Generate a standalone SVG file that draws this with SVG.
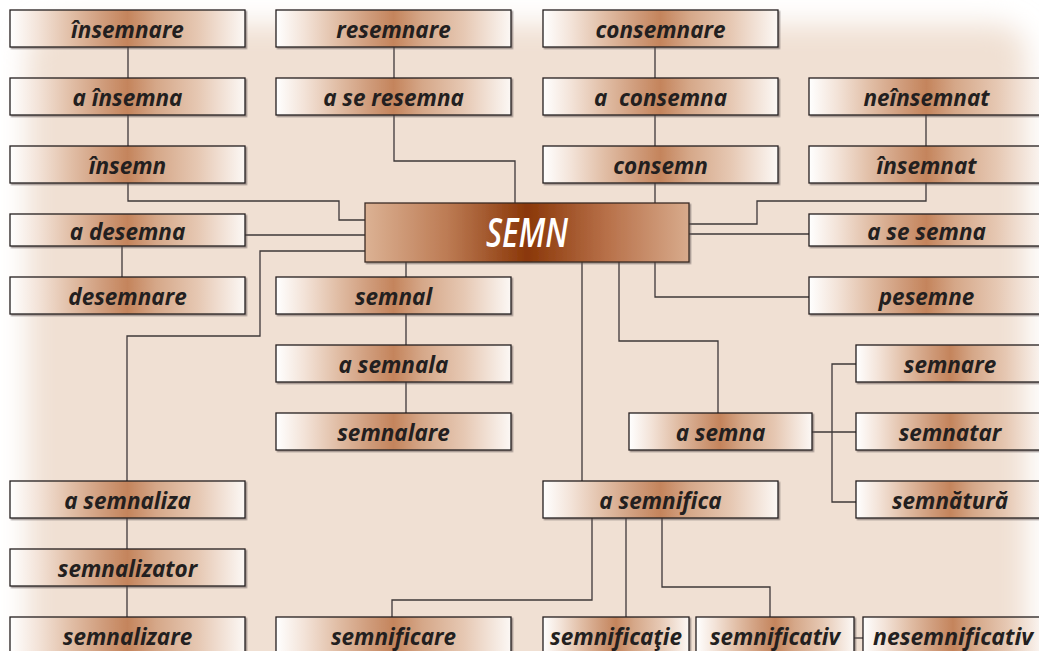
<svg xmlns="http://www.w3.org/2000/svg" width="1039" height="651" viewBox="0 0 1039 651">
<style>
.box{stroke:#231f20;stroke-width:1.3;fill:url(#g)}
.lbl{font-family:"Open Sans","Noto Sans",sans-serif;font-weight:700;font-style:italic;font-size:22.5px;fill:#231f20;text-anchor:middle;white-space:pre}
.ln{fill:none;stroke:#3e3839;stroke-width:1.3}
</style>
<defs>
<linearGradient id="g" x1="0" y1="0" x2="1" y2="0">
<stop offset="0" stop-color="#ffffff"/>
<stop offset="0.12" stop-color="#f3e3d8"/>
<stop offset="0.26" stop-color="#e1bea6"/>
<stop offset="0.4" stop-color="#cf9b7a"/>
<stop offset="0.5" stop-color="#c4845c"/>
<stop offset="0.62" stop-color="#d5a788"/>
<stop offset="0.8" stop-color="#e6c8b3"/>
<stop offset="1" stop-color="#fcf8f5"/>
</linearGradient>
<linearGradient id="gc" x1="0" y1="0" x2="1" y2="0">
<stop offset="0" stop-color="#dcb294"/>
<stop offset="0.25" stop-color="#bd7c55"/>
<stop offset="0.5" stop-color="#8a3708"/>
<stop offset="0.75" stop-color="#b8714a"/>
<stop offset="1" stop-color="#d8ab8c"/>
</linearGradient>
<filter id="blur" x="-10%" y="-10%" width="120%" height="120%"><feGaussianBlur stdDeviation="14"/></filter>
<filter id="sh" x="-5%" y="-20%" width="110%" height="150%"><feDropShadow dx="1.5" dy="1.5" stdDeviation="0.6" flood-color="#5a5050" flood-opacity="0.55"/></filter>
</defs>
<rect width="1039" height="651" fill="#ffffff"/>
<rect x="28" y="24" width="998" height="700" rx="30" fill="#f0e0d3" filter="url(#blur)"/>

<g id="connectors">
<path class="ln" d="M128,47V78M128,115V146"/>
<path class="ln" d="M128,183V201H339V220H365"/>
<path class="ln" d="M245,235H365"/>
<path class="ln" d="M122,246V277"/>
<path class="ln" d="M365,251H260V336H127V481"/>
<path class="ln" d="M127,518V549M127,586V617"/>
<path class="ln" d="M394,47V78"/>
<path class="ln" d="M394,115V161H515V203"/>
<path class="ln" d="M655,47V78M655,115V146M655,183V203"/>
<path class="ln" d="M926,115V146"/>
<path class="ln" d="M926,183V201H757V224H689"/>
<path class="ln" d="M689,234H809"/>
<path class="ln" d="M655,262V297H809"/>
<path class="ln" d="M406,262V277M406,314V345M406,382V413"/>
<path class="ln" d="M582,262V481"/>
<path class="ln" d="M619,262V341H718V413"/>
<path class="ln" d="M812,432H856M856,364H832V502H856"/>
<path class="ln" d="M592,518V600H392V617"/>
<path class="ln" d="M626,518V617"/>
<path class="ln" d="M662,518V587H770V617"/>
<path class="ln" d="M854,638H863"/>
</g>

<g id="SEMN"><rect x="365" y="203" width="324" height="59" fill="url(#gc)" stroke="#3a2a22" stroke-width="1.3" filter="url(#sh)"/><text x="527" y="247" font-family="Open Sans,Noto Sans,sans-serif" font-weight="600" font-style="italic" font-size="40" fill="#ffffff" text-anchor="middle" textLength="82" lengthAdjust="spacingAndGlyphs">SEMN</text></g>

<g id="n1"><rect class="box" x="10" y="10" width="235" height="37" filter="url(#sh)"/><text class="lbl" x="127.5" y="38">însemnare</text></g>
<g id="n2"><rect class="box" x="10" y="78" width="235" height="37" filter="url(#sh)"/><text class="lbl" x="127.5" y="106">a însemna</text></g>
<g id="n3"><rect class="box" x="10" y="146" width="235" height="37" filter="url(#sh)"/><text class="lbl" x="127.5" y="174">însemn</text></g>
<g id="n4"><rect class="box" x="10" y="214" width="235" height="32" filter="url(#sh)"/><text class="lbl" x="127.5" y="240">a desemna</text></g>
<g id="n5"><rect class="box" x="10" y="277" width="235" height="37" filter="url(#sh)"/><text class="lbl" x="127.5" y="305">desemnare</text></g>
<g id="n6"><rect class="box" x="276" y="10" width="235" height="37" filter="url(#sh)"/><text class="lbl" x="393.5" y="38">resemnare</text></g>
<g id="n7"><rect class="box" x="276" y="78" width="235" height="37" filter="url(#sh)"/><text class="lbl" x="393.5" y="106">a se resemna</text></g>
<g id="n8"><rect class="box" x="543" y="10" width="235" height="37" filter="url(#sh)"/><text class="lbl" x="660.5" y="38">consemnare</text></g>
<g id="n9"><rect class="box" x="543" y="78" width="235" height="37" filter="url(#sh)"/><text class="lbl" x="660.5" y="106">a  consemna</text></g>
<g id="n10"><rect class="box" x="543" y="146" width="235" height="37" filter="url(#sh)"/><text class="lbl" x="660.5" y="174">consemn</text></g>
<g id="n11"><rect class="box" x="809" y="78" width="235" height="37" filter="url(#sh)"/><text class="lbl" x="926.5" y="106">neînsemnat</text></g>
<g id="n12"><rect class="box" x="809" y="146" width="235" height="37" filter="url(#sh)"/><text class="lbl" x="926.5" y="174">însemnat</text></g>
<g id="n13"><rect class="box" x="809" y="214" width="235" height="32" filter="url(#sh)"/><text class="lbl" x="926.5" y="240">a se semna</text></g>
<g id="n14"><rect class="box" x="809" y="277" width="235" height="37" filter="url(#sh)"/><text class="lbl" x="926.5" y="305">pesemne</text></g>
<g id="n15"><rect class="box" x="276" y="277" width="235" height="37" filter="url(#sh)"/><text class="lbl" x="393.5" y="305">semnal</text></g>
<g id="n16"><rect class="box" x="276" y="345" width="235" height="37" filter="url(#sh)"/><text class="lbl" x="393.5" y="373">a semnala</text></g>
<g id="n17"><rect class="box" x="276" y="413" width="235" height="37" filter="url(#sh)"/><text class="lbl" x="393.5" y="441">semnalare</text></g>
<g id="n18"><rect class="box" x="629" y="413" width="183" height="37" filter="url(#sh)"/><text class="lbl" x="720.5" y="441">a semna</text></g>
<g id="n19"><rect class="box" x="856" y="345" width="188" height="37" filter="url(#sh)"/><text class="lbl" x="950" y="373">semnare</text></g>
<g id="n20"><rect class="box" x="856" y="413" width="188" height="37" filter="url(#sh)"/><text class="lbl" x="950" y="441">semnatar</text></g>
<g id="n21"><rect class="box" x="856" y="481" width="188" height="37" filter="url(#sh)"/><text class="lbl" x="950" y="509">semnătură</text></g>
<g id="n22"><rect class="box" x="543" y="481" width="235" height="37" filter="url(#sh)"/><text class="lbl" x="660.5" y="509">a semnifica</text></g>
<g id="n23"><rect class="box" x="10" y="481" width="235" height="37" filter="url(#sh)"/><text class="lbl" x="127.5" y="509">a semnaliza</text></g>
<g id="n24"><rect class="box" x="10" y="549" width="235" height="37" filter="url(#sh)"/><text class="lbl" x="127.5" y="577">semnalizator</text></g>
<g id="n25"><rect class="box" x="10" y="617" width="235" height="37" filter="url(#sh)"/><text class="lbl" x="127.5" y="645">semnalizare</text></g>
<g id="n26"><rect class="box" x="276" y="617" width="235" height="37" filter="url(#sh)"/><text class="lbl" x="393.5" y="645">semnificare</text></g>
<g id="n27"><rect class="box" x="543" y="617" width="146" height="37" filter="url(#sh)"/><text class="lbl" x="616" y="645" textLength="132" lengthAdjust="spacingAndGlyphs">semnificaţie</text></g>
<g id="n28"><rect class="box" x="696" y="617" width="158" height="37" filter="url(#sh)"/><text class="lbl" x="775" y="645" textLength="130" lengthAdjust="spacingAndGlyphs">semnificativ</text></g>
<g id="n29"><rect class="box" x="863" y="617" width="180" height="37" filter="url(#sh)"/><text class="lbl" x="953" y="645" textLength="160" lengthAdjust="spacingAndGlyphs">nesemnificativ</text></g>
</svg>
